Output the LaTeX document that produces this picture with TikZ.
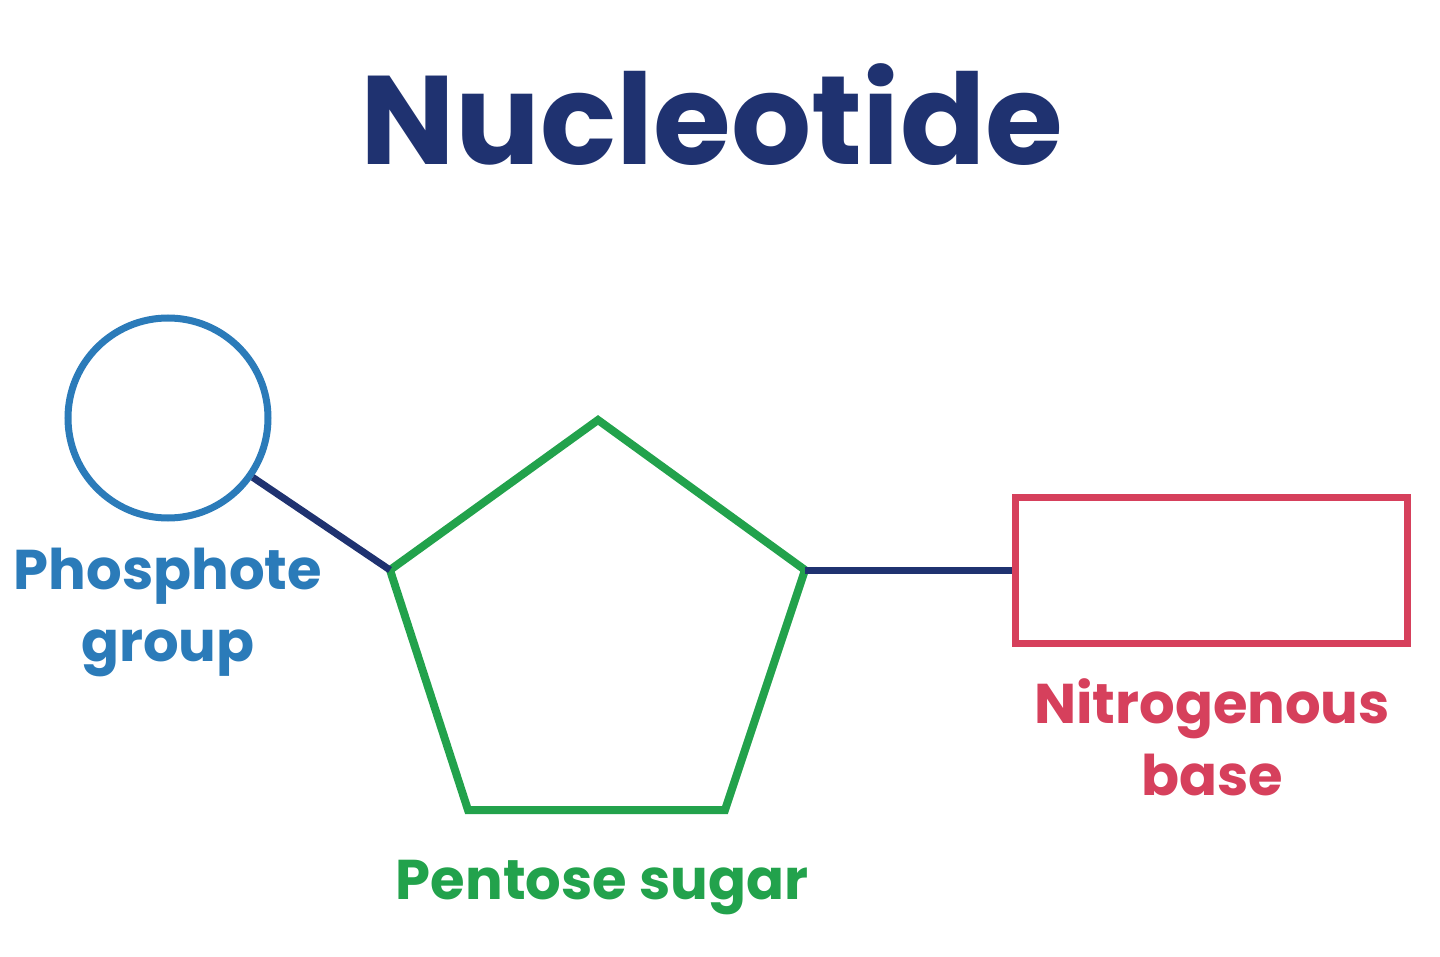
\documentclass[tikz,border=0pt]{standalone}
\usepackage{fontspec}
\setmainfont{Poppins}
\definecolor{navy}{HTML}{1F3270}
\definecolor{cblue}{HTML}{2B7BB9}
\definecolor{cgreen}{HTML}{22A24C}
\definecolor{cred}{HTML}{D6405C}
\begin{document}
\begin{tikzpicture}[x=0.5pt,y=-0.5pt,
  lbl/.style={font=\fontsize{28}{36}\selectfont\bfseries,align=center},
  bond/.style={navy,line width=3.5pt}]
\useasboundingbox (0,0) rectangle (1440,957);
\node[font=\fontsize{63}{70}\selectfont\bfseries,text=navy] (title) at (712,115) {Nucleotide};
\node[circle,draw=cblue,line width=3.5pt,minimum size=100pt,inner sep=0] (phos) at (168,418) {};
\coordinate (p1) at (598,420);
\coordinate (p2) at (805,570);
\coordinate (p3) at (725,810);
\coordinate (p4) at (468,810);
\coordinate (p5) at (390,570);
\draw[cgreen,line width=4pt,line join=miter] (p1)--(p2)--(p3)--(p4)--(p5)--cycle;
\node[draw=cred,line width=3.5pt,minimum width=196pt,minimum height=73pt,inner sep=0] (base) at (1211,570) {};
\draw[bond] (phos.-35) -- (p5);
\draw[bond] (p2) -- (base.west);
\node[lbl,text=cblue] (lp) at (168,612) {Phosphote\\group};
\node[lbl,text=cred] (lb) at (1212,737) {Nitrogenous\\base};
\node[lbl,text=cgreen] (ls) at (602,888) {Pentose sugar};
\end{tikzpicture}
\end{document}
